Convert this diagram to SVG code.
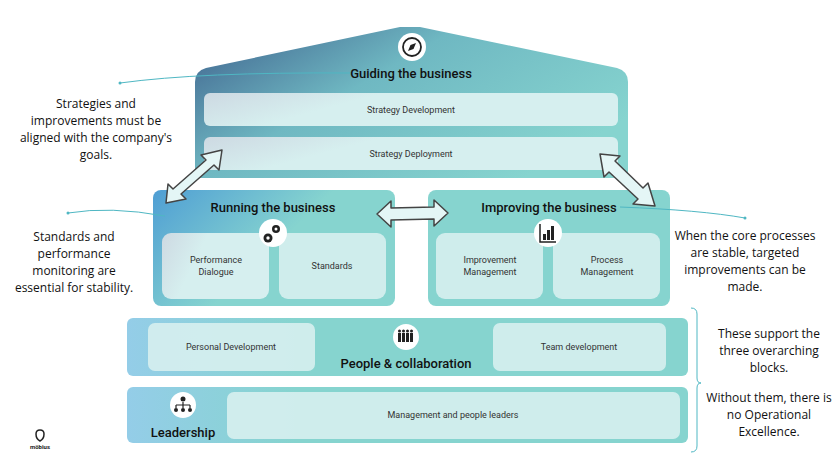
<svg xmlns="http://www.w3.org/2000/svg" width="838" height="464" viewBox="0 0 838 464">
<style>
.h{font-family:Roboto,"Liberation Sans",sans-serif;font-weight:500;fill:#111;text-anchor:middle}
.s{font-family:Roboto,"Liberation Sans",sans-serif;font-size:9px;fill:#333;text-anchor:middle}
.n{font-family:"Open Sans","Liberation Sans",sans-serif;font-size:12px;fill:#111;text-anchor:middle}
.in{fill:#d6efef;opacity:.92}
.ln{stroke:#4fb7c3;stroke-width:1;fill:none}
.arr{fill:#e4f6f6;stroke:#444;stroke-width:1.5;stroke-linejoin:round}
</style>
<defs>
<linearGradient id="g1" x1="0" y1="0" x2="1" y2="0.6"><stop offset="0" stop-color="#3d5f8c"/><stop offset="0.45" stop-color="#6fb8c2"/><stop offset="1" stop-color="#86d4cf"/></linearGradient>
<linearGradient id="g2" x1="0" y1="0" x2="1" y2="0.5"><stop offset="0" stop-color="#4f9ed4"/><stop offset="0.6" stop-color="#86d4cf"/></linearGradient>
<linearGradient id="g3" x1="0" y1="0" x2="1" y2="0"><stop offset="0" stop-color="#94cde8"/><stop offset="0.3" stop-color="#86d4cf"/></linearGradient>
<linearGradient id="gi" x1="0" y1="0" x2="1" y2="0.3"><stop offset="0" stop-color="#cdd9e2"/><stop offset="0.4" stop-color="#d6efef"/></linearGradient>
</defs>
<g id="guiding">
<path d="M195,82 Q195,71 206,68 L400,27 L420,27 L617,68 Q628,71 628,82 L628,172 Q628,178 622,178 L201,178 Q195,178 195,172 Z" fill="url(#g1)"/>
<rect x="204" y="93" width="414" height="33" rx="6" fill="url(#gi)"/>
<rect x="204" y="137" width="414" height="33" rx="6" fill="url(#gi)"/>
<circle cx="412" cy="47" r="14" fill="#fff"/>
<circle cx="412" cy="47" r="9" fill="none" stroke="#222" stroke-width="1.8"/>
<path d="M416,43 L413.5,49 L408,51 L410.5,45 Z" fill="#222"/>
<text class="h" x="411" y="78" font-size="13">Guiding the business</text>
<text class="s" x="411" y="113">Strategy Development</text>
<text class="s" x="411" y="157">Strategy Deployment</text>
</g>
<g id="running">
<rect x="153" y="190" width="242" height="116" rx="8" fill="url(#g2)"/>
<rect x="162" y="233" width="107" height="66" rx="9" fill="url(#gi)"/>
<rect x="279" y="233" width="107" height="66" rx="9" class="in"/>
<circle cx="273" cy="233" r="14" fill="#fff"/>
<g fill="#222"><circle cx="276" cy="229" r="4"/><circle cx="268" cy="238" r="4.5"/></g>
<g fill="#fff"><circle cx="276" cy="229" r="1.5"/><circle cx="268" cy="238" r="1.7"/></g>
<text class="h" x="273" y="212" font-size="13">Running the business</text>
<text class="s" x="216" y="263">Performance</text><text class="s" x="216" y="275">Dialogue</text>
<text class="s" x="332" y="269">Standards</text>
</g>
<g id="improving">
<rect x="428" y="190" width="242" height="116" rx="8" fill="#86d4cf"/>
<rect x="436" y="233" width="107" height="66" rx="9" class="in"/>
<rect x="553" y="233" width="107" height="66" rx="9" class="in"/>
<circle cx="548" cy="233" r="14" fill="#fff"/>
<path d="M540,224 L540,242 L556,242" fill="none" stroke="#222" stroke-width="1.5"/>
<g fill="#222"><rect x="543" y="234" width="3" height="6"/><rect x="547" y="230" width="3" height="10"/><rect x="551" y="226" width="3" height="14"/></g>
<text class="h" x="549" y="212" font-size="13">Improving the business</text>
<text class="s" x="490" y="263">Improvement</text><text class="s" x="490" y="275">Management</text>
<text class="s" x="607" y="263">Process</text><text class="s" x="607" y="275">Management</text>
</g>
<g id="people">
<rect x="127" y="318" width="561" height="58" rx="6" fill="url(#g3)"/>
<rect x="148" y="323" width="167" height="48" rx="7" class="in"/>
<rect x="493" y="323" width="173" height="48" rx="7" class="in"/>
<circle cx="406" cy="337" r="13" fill="#fff"/>
<g fill="#222"><circle cx="399.5" cy="331" r="1.5"/><circle cx="403.5" cy="331" r="1.5"/><circle cx="407.5" cy="331" r="1.5"/><circle cx="411.5" cy="331" r="1.5"/><rect x="398" y="333" width="3" height="9"/><rect x="402" y="333" width="3" height="9"/><rect x="406" y="333" width="3" height="9"/><rect x="410" y="333" width="3" height="9"/></g>
<text class="h" x="406" y="368" font-size="13">People &amp; collaboration</text>
<text class="s" x="231" y="350">Personal Development</text>
<text class="s" x="579" y="350">Team development</text>
</g>
<g id="leadership">
<rect x="127" y="387" width="561" height="56" rx="6" fill="url(#g3)"/>
<rect x="227" y="392" width="453" height="47" rx="7" class="in"/>
<circle cx="183" cy="405" r="13" fill="#fff"/>
<circle cx="183" cy="399" r="2.5" fill="#222"/>
<path d="M183,402 L183,405 M176,405 L190,405 M176,405 L176,408 M183,405 L183,408 M190,405 L190,408" stroke="#222" stroke-width="1.2"/>
<g fill="#222"><circle cx="176" cy="410" r="2"/><circle cx="183" cy="410" r="2"/><circle cx="190" cy="410" r="2"/></g>
<text class="h" x="183" y="437" font-size="13">Leadership</text>
<text class="s" x="453" y="418">Management and people leaders</text>
</g>
<g id="connectors">
<path class="arr" d="M166,203 L168,184 L173,189 L206,160 L201,155 L222,150 L219,170 L214,165 L181,194 L186,199 Z"/>
<path class="arr" d="M600,154 L620,156 L615,161 L643,188 L648,183 L655,206 L633,204 L638,199 L609,172 L604,177 Z"/>
<path class="arr" d="M377,214 L391,201 L391,208 L434,207 L434,200 L448,213 L434,226 L434,219 L391,220 L391,227 Z"/>
<path class="ln" d="M120,83 Q200,72 350,73"/><circle cx="120" cy="83" r="1.5" fill="#4fb7c3"/>
<path class="ln" d="M68,213 Q110,206 165,216"/><circle cx="68" cy="213" r="1.5" fill="#4fb7c3"/>
<path class="ln" d="M620,207 Q700,210 745,218"/><circle cx="745" cy="218" r="1.5" fill="#4fb7c3"/>
<path d="M691,308 Q697,308 697,314 L697,378 Q697,383 701,383 Q697,383 697,388 L697,446 Q697,452 691,452" fill="none" stroke="#4fb7c3" stroke-width="1"/>
</g>
<g id="notes">
<text class="n" x="96" y="108">Strategies and</text>
<text class="n" x="96" y="125">improvements must be</text>
<text class="n" x="96" y="142">aligned with the company's</text>
<text class="n" x="96" y="159">goals.</text>
<text class="n" x="74" y="241">Standards and</text>
<text class="n" x="74" y="258">performance</text>
<text class="n" x="74" y="275">monitoring are</text>
<text class="n" x="74" y="292">essential for stability.</text>
<text class="n" x="745" y="240">When the core processes</text>
<text class="n" x="745" y="257">are stable, targeted</text>
<text class="n" x="745" y="274">improvements can be</text>
<text class="n" x="745" y="291">made.</text>
<text class="n" x="769" y="338">These support the</text>
<text class="n" x="769" y="355">three overarching</text>
<text class="n" x="769" y="372">blocks.</text>
<text class="n" x="769" y="402">Without them, there is</text>
<text class="n" x="769" y="419">no Operational</text>
<text class="n" x="769" y="436">Excellence.</text>
</g>
<g id="logo">
<path d="M36,434 Q36,430 40,430 Q44,430 44,434 Q44,439 40,441 Q36,439 36,434 Z" fill="none" stroke="#222" stroke-width="1.5"/>
<text x="40" y="449" font-family="Roboto,'Liberation Sans',sans-serif" font-size="6" font-weight="700" text-anchor="middle" fill="#222">möbius</text>
</g>
</svg>
